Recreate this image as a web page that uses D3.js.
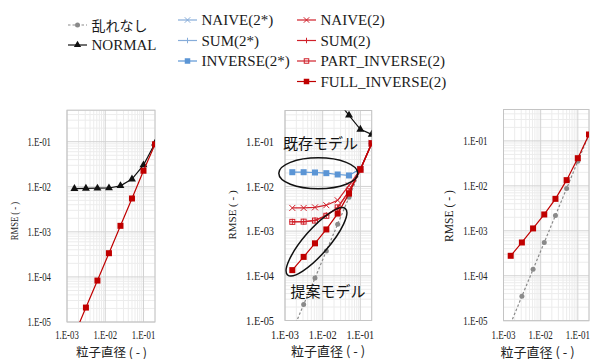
<!DOCTYPE html>
<html>
<head>
<meta charset="utf-8">
<script src="https://cdn.jsdelivr.net/npm/d3@7"></script>
<style>
  body { margin: 0; background: #fff; }
</style>
</head>
<body>
<div id="chart"></div>
<script>
// Particle diameters (x values), shared by every series
const diameters = [0.0015625, 0.003125, 0.00625, 0.0125, 0.025, 0.05, 0.1, 0.2];

// Axis ticks
const yTickValues = [1e-5, 1e-4, 1e-3, 1e-2, 1e-1];
const yTickLabels = ["1.E-05", "1.E-04", "1.E-03", "1.E-02", "1.E-01"];
const xTickValues = [1e-3, 1e-2, 1e-1];
const xTickLabels = ["1.E-03", "1.E-02", "1.E-01"];

// Panel 1 (left)
const p1Normal = [0.0091, 0.0092, 0.0093, 0.0094, 0.0105, 0.0148, 0.0303, 0.092];
const p1FullInverse = [5.2e-6, 2.09e-5, 8.3e-5, 3.36e-4, 1.36e-3, 5.5e-3, 0.0227, 0.0875];

// Panel 2 (middle)
const p2Undisturbed = [5.7e-6, 2.27e-5, 8.9e-5, 3.6e-4, 1.43e-3, 5.7e-3, 0.0228, 0.09];
const p2Normal = [null, null, null, null, 0.82, 0.39, 0.189, 0.146];
const p2Inverse2s = [0.0208, 0.0208, 0.0205, 0.0198, 0.0185, 0.0176, 0.0247, 0.092];
const p2Naive2 = [0.0033, 0.0033, 0.0034, 0.0038, 0.0049, 0.0105, 0.024, 0.092];
const p2Sum2 = [0.00162, 0.00162, 0.00175, 0.00227, 0.0033, 0.008, 0.0235, 0.092];
const p2PartInverse2 = [0.00161, 0.00163, 0.00172, 0.0022, 0.0034, 0.0078, 0.0235, 0.092];
const p2FullInverse = [1.34e-4, 2.65e-4, 5.33e-4, 1.09e-3, 2.47e-3, 6.9e-3, 0.0243, 0.092];

// Panel 3 (right)
const p3Undisturbed = [8.7e-6, 3.48e-5, 1.39e-4, 5.5e-4, 2.2e-3, 8.75e-3, 0.0354, 0.138];
const p3FullInverse = [2.78e-4, 5.5e-4, 1.13e-3, 2.31e-3, 5.14e-3, 0.0134, 0.0413, 0.139];

// Legend labels
const legendLabels = {
  undisturbed: "乱れなし",
  normal: "NORMAL",
  naive2s: "NAIVE(2*)",
  sum2s: "SUM(2*)",
  inverse2s: "INVERSE(2*)",
  naive2: "NAIVE(2)",
  sum2: "SUM(2)",
  partInverse2: "PART_INVERSE(2)",
  fullInverse2: "FULL_INVERSE(2)",
};

const axisTitleX = "粒子直径 ( - )";
const axisTitleY = "RMSE ( - )";
const annotExisting = "既存モデル";
const annotProposed = "提案モデル";

// Styles of each series
const styles = {
  undisturbed: { color: "#8a8a8a", marker: "circle", dash: "2.5,2" },
  normal: { color: "#111111", marker: "triangle" },
  naive2s: { color: "#86acd9", marker: "x" },
  sum2s: { color: "#86acd9", marker: "plus" },
  inverse2s: { color: "#5b95d5", marker: "square" },
  naive2: { color: "#d0202a", marker: "x" },
  sum2: { color: "#d0202a", marker: "plus" },
  partInverse2: { color: "#d0202a", marker: "openSquare" },
  fullInverse2: { color: "#c00000", marker: "square" },
};

const serif = "Liberation Serif";
const cjk = "Noto Sans CJK JP";

const width = 616;
const height = 359;

const svg = d3.select("#chart")
  .append("svg")
  .attr("width", width)
  .attr("height", height)
  .attr("viewBox", [0, 0, width, height]);

// Draw a marker of the given kind centred at 0,0 inside g
function drawMarker(g, kind, color, s) {
  if (kind === "circle") {
    g.append("circle").attr("r", s * 0.5).attr("fill", color);
  } else if (kind === "triangle") {
    g.append("path")
      .attr("d", d3.symbol(d3.symbolTriangle, s * s * 0.75)())
      .attr("fill", color);
  } else if (kind === "square") {
    g.append("rect")
      .attr("x", -s / 2).attr("y", -s / 2)
      .attr("width", s).attr("height", s)
      .attr("fill", color);
  } else if (kind === "openSquare") {
    g.append("rect")
      .attr("x", -s / 2 + 0.5).attr("y", -s / 2 + 0.5)
      .attr("width", s - 1).attr("height", s - 1)
      .attr("fill", "none").attr("stroke", color).attr("stroke-width", 1);
  } else if (kind === "x") {
    const h = s / 2;
    g.append("path")
      .attr("d", `M${-h},${-h}L${h},${h}M${-h},${h}L${h},${-h}`)
      .attr("stroke", color).attr("stroke-width", 1).attr("fill", "none");
  } else if (kind === "plus") {
    const h = s / 2;
    g.append("path")
      .attr("d", `M${-h},0L${h},0M0,${-h}L0,${h}`)
      .attr("stroke", color).attr("stroke-width", 1).attr("fill", "none");
  }
}

// Text, optionally rotated and squeezed along its own direction
function addText(parent, str, x, y, opts) {
  const sx = opts.sx || 1;
  const rot = opts.rotate ? ` rotate(${opts.rotate})` : "";
  return parent.append("text")
    .attr("transform", `translate(${x},${y})${rot} scale(${sx},1)`)
    .attr("text-anchor", opts.anchor || "start")
    .attr("dominant-baseline", opts.baseline || "auto")
    .style("font-family", opts.cjk ? cjk : serif)
    .style("font-size", `${opts.size}px`)
    .attr("fill", opts.fill || "#222")
    .text(str);
}

// Panel layouts (pixels)
const panels = [
  {
    id: "p1",
    xRange: [67, 155], yRange: [322, 110.2],
    tick: { size: 11.5, sx: 0.76, xGap: 16, xLabelY: 339 },
    yTitle: { x: 14, y: 221, size: 11, sx: 0.78 },
    xTitle: { x: 111.5, y: 351, size: 12.5 },
    series: [
      { key: "normal", values: p1Normal },
      { key: "fullInverse2", values: p1FullInverse },
    ],
  },
  {
    id: "p2",
    xRange: [285, 371.7], yRange: [320.5, 110.5],
    tick: { size: 11.5, sx: 0.9, xGap: 11, xLabelY: 338.5 },
    yTitle: { x: 232, y: 215, size: 11, sx: 1 },
    xTitle: { x: 328, y: 350, size: 13 },
    series: [
      { key: "undisturbed", values: p2Undisturbed },
      { key: "normal", values: p2Normal },
      { key: "inverse2s", values: p2Inverse2s },
      { key: "naive2", values: p2Naive2 },
      { key: "sum2", values: p2Sum2 },
      { key: "partInverse2", values: p2PartInverse2 },
      { key: "fullInverse2", values: p2FullInverse },
    ],
  },
  {
    id: "p3",
    xRange: [503.5, 589], yRange: [320.7, 109.5],
    tick: { size: 11.5, sx: 0.78, xGap: 16, xLabelY: 339 },
    yTitle: { x: 449, y: 216, size: 12.5, sx: 0.93 },
    xTitle: { x: 537.5, y: 351, size: 13 },
    series: [
      { key: "undisturbed", values: p3Undisturbed },
      { key: "fullInverse2", values: p3FullInverse },
    ],
  },
];

panels.forEach((p) => {
  const x = d3.scaleLog().domain([1e-3, 0.2]).range(p.xRange);
  const y = d3.scaleLog().domain([1e-5, 0.5]).range(p.yRange);
  const [x0, x1] = p.xRange;
  const [yb, yt] = p.yRange;

  const g = svg.append("g");

  // Clip to plot area
  svg.append("clipPath").attr("id", `clip-${p.id}`)
    .append("rect")
    .attr("x", x0).attr("y", yt)
    .attr("width", x1 - x0).attr("height", yb - yt);

  // Minor and major grid values
  const xMinor = [], yMinor = [];
  [1e-3, 1e-2, 1e-1].forEach((d) => {
    for (let m = 2; m <= 9; m++) if (d * m <= 0.2) xMinor.push(d * m);
  });
  [1e-5, 1e-4, 1e-3, 1e-2, 1e-1].forEach((d) => {
    for (let m = 2; m <= 9; m++) if (d * m <= 0.5) yMinor.push(d * m);
  });

  g.append("g").selectAll("line").data(xMinor).join("line")
    .attr("x1", (d) => x(d)).attr("x2", (d) => x(d))
    .attr("y1", yt).attr("y2", yb)
    .attr("stroke", "#ececec").attr("stroke-width", 1);
  g.append("g").selectAll("line").data(yMinor).join("line")
    .attr("x1", x0).attr("x2", x1)
    .attr("y1", (d) => y(d)).attr("y2", (d) => y(d))
    .attr("stroke", "#ececec").attr("stroke-width", 1);
  g.append("g").selectAll("line").data(xTickValues).join("line")
    .attr("x1", (d) => x(d)).attr("x2", (d) => x(d))
    .attr("y1", yt).attr("y2", yb)
    .attr("stroke", "#d2d2d2").attr("stroke-width", 1);
  g.append("g").selectAll("line").data(yTickValues).join("line")
    .attr("x1", x0).attr("x2", x1)
    .attr("y1", (d) => y(d)).attr("y2", (d) => y(d))
    .attr("stroke", "#d2d2d2").attr("stroke-width", 1);

  // Plot border
  g.append("rect")
    .attr("x", x0).attr("y", yt)
    .attr("width", x1 - x0).attr("height", yb - yt)
    .attr("fill", "none").attr("stroke", "#c4c4c4").attr("stroke-width", 1);

  // Tick labels
  yTickValues.forEach((v, i) => {
    addText(g, yTickLabels[i], x0 - p.tick.xGap, y(v), {
      size: p.tick.size, sx: p.tick.sx, anchor: "end", baseline: "central",
    });
  });
  xTickValues.forEach((v, i) => {
    addText(g, xTickLabels[i], x(v), p.tick.xLabelY, {
      size: p.tick.size, sx: p.tick.sx, anchor: "middle",
    });
  });

  // Axis titles
  addText(g, axisTitleY, p.yTitle.x, p.yTitle.y, {
    size: p.yTitle.size, sx: p.yTitle.sx, anchor: "middle", baseline: "central", rotate: -90,
  });
  addText(g, axisTitleX, p.xTitle.x, p.xTitle.y, {
    size: p.xTitle.size, anchor: "middle", baseline: "central", cjk: true,
  });

  // Series
  const plot = g.append("g").attr("clip-path", `url(#clip-${p.id})`);
  p.series.forEach((s) => {
    const st = styles[s.key];
    const pts = diameters.map((d, i) => ({ d, v: s.values[i] }));
    const line = d3.line()
      .defined((d) => d.v != null)
      .x((d) => x(d.d))
      .y((d) => y(d.v));
    plot.append("path")
      .datum(pts)
      .attr("fill", "none")
      .attr("stroke", st.color)
      .attr("stroke-width", 1.2)
      .attr("stroke-dasharray", st.dash || null)
      .attr("d", line);
    pts.filter((d) => d.v != null).forEach((d) => {
      const mg = plot.append("g").attr("transform", `translate(${x(d.d)},${y(d.v)})`);
      drawMarker(mg, st.marker, st.color, st.marker === "circle" ? 5 : 6);
    });
  });
});

// Annotations on the middle panel
svg.append("ellipse")
  .attr("cx", 318.3).attr("cy", 173.3)
  .attr("rx", 39.5).attr("ry", 15.5)
  .attr("fill", "none").attr("stroke", "#111").attr("stroke-width", 1.5);
svg.append("ellipse")
  .attr("transform", "translate(316.5,241.8) rotate(-49)")
  .attr("rx", 44).attr("ry", 12.5)
  .attr("fill", "none").attr("stroke", "#111").attr("stroke-width", 1.5);
addText(svg, annotExisting, 283, 142, { size: 15, cjk: true, baseline: "central", fill: "#111" });
addText(svg, annotProposed, 290.5, 290, { size: 15, cjk: true, baseline: "central", fill: "#111" });

// Legend
const legendEntries = [
  { key: "undisturbed", x: 68, y: 25 },
  { key: "normal", x: 68, y: 45 },
  { key: "naive2s", x: 178, y: 20 },
  { key: "sum2s", x: 178, y: 40.5 },
  { key: "inverse2s", x: 178, y: 61 },
  { key: "naive2", x: 297, y: 20 },
  { key: "sum2", x: 297, y: 40.5 },
  { key: "partInverse2", x: 297, y: 61 },
  { key: "fullInverse2", x: 297, y: 81.5 },
];

const legend = svg.append("g");
legendEntries.forEach((e) => {
  const st = styles[e.key];
  legend.append("line")
    .attr("x1", e.x).attr("x2", e.x + 19)
    .attr("y1", e.y).attr("y2", e.y)
    .attr("stroke", st.color).attr("stroke-width", 1.2)
    .attr("stroke-dasharray", st.dash || null);
  const mg = legend.append("g").attr("transform", `translate(${e.x + 9.5},${e.y})`);
  drawMarker(mg, st.marker, st.color, st.marker === "circle" ? 5 : 5.5);
  const isCjk = e.key === "undisturbed";
  addText(legend, legendLabels[e.key], e.x + 23.5, e.y, {
    size: isCjk ? 14 : 15, cjk: isCjk, baseline: "central", fill: "#1a1a1a",
  });
});
</script>
</body>
</html>
